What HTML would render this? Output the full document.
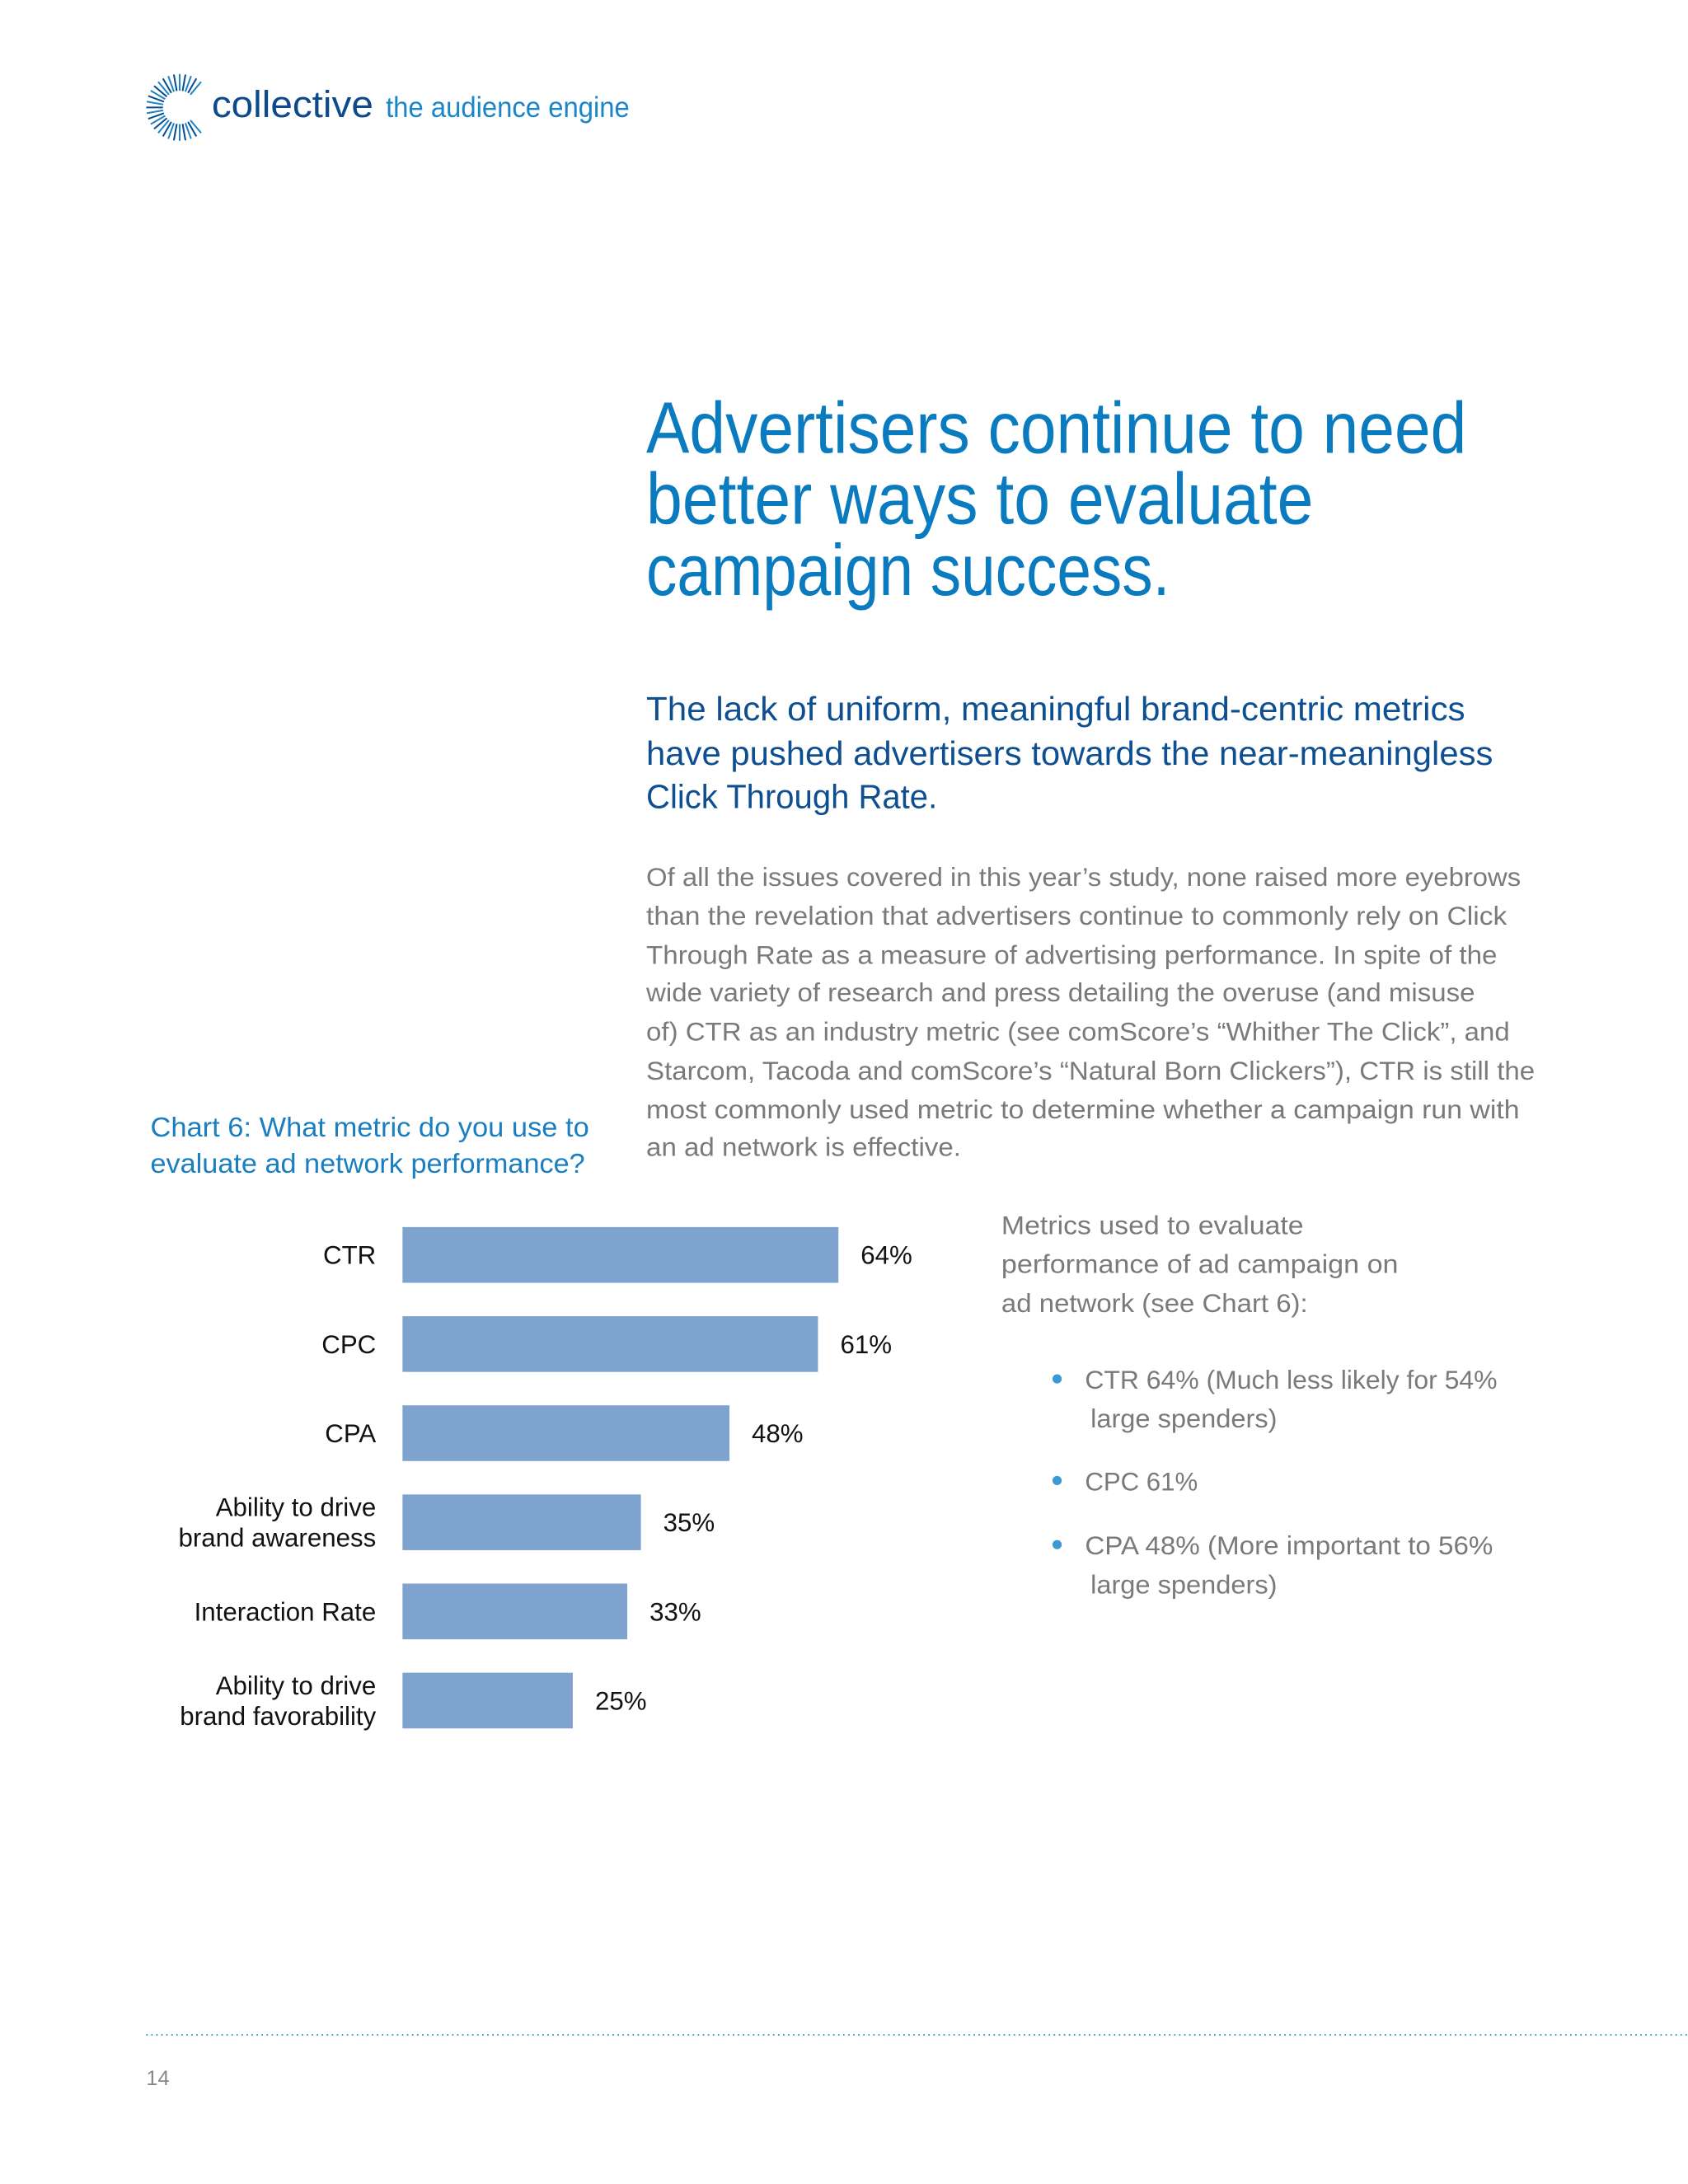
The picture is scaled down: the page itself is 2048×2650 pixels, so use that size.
<!DOCTYPE html>
<html><head><meta charset="utf-8"><style>
html,body{margin:0;padding:0;background:#fff}
svg{display:block}
text{font-family:"Liberation Sans",sans-serif}
</style></head><body>
<svg id="page" width="2048" height="2650" viewBox="0 0 1212 1568" xmlns="http://www.w3.org/2000/svg">
<rect width="1212" height="1568" fill="#ffffff"/>
<g id="logo"></g>
<text x="152" y="84" font-size="27" fill="#0d4a8c" textLength="116" lengthAdjust="spacingAndGlyphs">collective</text>
<text x="277" y="84" font-size="21" fill="#1a86c8" textLength="175" lengthAdjust="spacingAndGlyphs">the audience engine</text>

<g fill="#0a7bbf" font-size="52">
<text x="464" y="325" textLength="589" lengthAdjust="spacingAndGlyphs">Advertisers continue to need</text>
<text x="464" y="376" textLength="479" lengthAdjust="spacingAndGlyphs">better ways to evaluate</text>
<text x="464" y="427" textLength="376" lengthAdjust="spacingAndGlyphs">campaign success.</text>
</g>
<g fill="#0d4f91" font-size="24">
<text x="464" y="517" textLength="588" lengthAdjust="spacingAndGlyphs">The lack of uniform, meaningful brand-centric metrics</text>
<text x="464" y="549" textLength="608" lengthAdjust="spacingAndGlyphs">have pushed advertisers towards the near-meaningless</text>
<text x="464" y="580" textLength="209" lengthAdjust="spacingAndGlyphs">Click Through Rate.</text>
</g>
<g fill="#7a7a7a" font-size="18.5">
<text x="464" y="636" textLength="628" lengthAdjust="spacingAndGlyphs">Of all the issues covered in this year’s study, none raised more eyebrows</text>
<text x="464" y="664" textLength="618" lengthAdjust="spacingAndGlyphs">than the revelation that advertisers continue to commonly rely on Click</text>
<text x="464" y="692" textLength="611" lengthAdjust="spacingAndGlyphs">Through Rate as a measure of advertising performance. In spite of the</text>
<text x="464" y="719" textLength="595" lengthAdjust="spacingAndGlyphs">wide variety of research and press detailing the overuse (and misuse</text>
<text x="464" y="747" textLength="620" lengthAdjust="spacingAndGlyphs">of) CTR as an industry metric (see comScore’s “Whither The Click”, and</text>
<text x="464" y="775" textLength="638" lengthAdjust="spacingAndGlyphs">Starcom, Tacoda and comScore’s “Natural Born Clickers”), CTR is still the</text>
<text x="464" y="803" textLength="627" lengthAdjust="spacingAndGlyphs">most commonly used metric to determine whether a campaign run with</text>
<text x="464" y="830" textLength="226" lengthAdjust="spacingAndGlyphs">an ad network is effective.</text>
</g>
<g fill="#1a7fc0" font-size="19.5">
<text x="108" y="816" textLength="315" lengthAdjust="spacingAndGlyphs">Chart 6: What metric do you use to</text>
<text x="108" y="842" textLength="312" lengthAdjust="spacingAndGlyphs">evaluate ad network performance?</text>
</g>
<g id="chart"></g>

<g fill="#7a7a7a" font-size="18.5">
<text x="719" y="886" textLength="217" lengthAdjust="spacingAndGlyphs">Metrics used to evaluate</text>
<text x="719" y="914" textLength="285" lengthAdjust="spacingAndGlyphs">performance of ad campaign on</text>
<text x="719" y="942" textLength="220" lengthAdjust="spacingAndGlyphs">ad network (see Chart 6):</text>
<circle cx="759" cy="990" r="3.3" fill="#3b9ad6"/>
<text x="779" y="997" textLength="296" lengthAdjust="spacingAndGlyphs">CTR 64% (Much less likely for 54%</text>
<text x="783" y="1025" textLength="134" lengthAdjust="spacingAndGlyphs">large spenders)</text>
<circle cx="759" cy="1063" r="3.3" fill="#3b9ad6"/>
<text x="779" y="1070" textLength="81" lengthAdjust="spacingAndGlyphs">CPC 61%</text>
<circle cx="759" cy="1109" r="3.3" fill="#3b9ad6"/>
<text x="779" y="1116" textLength="293" lengthAdjust="spacingAndGlyphs">CPA 48% (More important to 56%</text>
<text x="783" y="1144" textLength="134" lengthAdjust="spacingAndGlyphs">large spenders)</text>
</g>
<line x1="105" y1="1461" x2="1212" y2="1461" stroke="#3a9bc8" stroke-width="1.2" stroke-dasharray="1 2.6"/>
<text x="105" y="1497" font-size="15" fill="#888">14</text>
</svg>
<script>
const categories = [["CTR"],["CPC"],["CPA"],["Ability to drive","brand awareness"],["Interaction Rate"],["Ability to drive","brand favorability"]];
const values = [64, 61, 48, 35, 33, 25];
const valueLabels = ["64%","61%","48%","35%","33%","25%"];

const NS = "http://www.w3.org/2000/svg";
const chart = document.getElementById('chart');
const x0 = 289, pxPerPct = 313 / 64;
const xScale = v => x0 + v * pxPerPct;
const rowTop = 881, rowStep = 64, barH = 40;
const yScale = i => rowTop + i * rowStep;
values.forEach((v, i) => {
  const y = yScale(i);
  const r = document.createElementNS(NS, 'rect');
  r.setAttribute('x', x0); r.setAttribute('y', y);
  r.setAttribute('width', xScale(v) - x0); r.setAttribute('height', barH);
  r.setAttribute('fill', '#7fa3cf');
  
  
  chart.appendChild(r);
  const t = document.createElementNS(NS, 'text');
  t.setAttribute('x', xScale(v) + 16); t.setAttribute('y', y + barH / 2 + 6.5);
  t.setAttribute('font-size', '18.5'); t.setAttribute('fill', '#111');
  t.textContent = valueLabels[i];
  
  
  chart.appendChild(t);
  const lines = categories[i];
  lines.forEach((ln, j) => {
    const c = document.createElementNS(NS, 'text');
    const cy = y + barH / 2 + 6.5 + (lines.length === 2 ? (j === 0 ? -11 : 11) : 0);
    c.setAttribute('x', 270); c.setAttribute('y', cy);
    c.setAttribute('text-anchor', 'end'); c.setAttribute('font-size', '18.5'); c.setAttribute('fill', '#111');
    c.textContent = ln;
    
    
    chart.appendChild(c);
  });
});
const logo = document.getElementById('logo');
for (let k = 0; k < 36; k++) {
  const a = (k / 36) * Math.PI * 2;
  if (Math.cos(a) > 0.75) continue;
  const cx = 129, cy = 77;
  const l = document.createElementNS(NS, 'line');
  l.setAttribute('x1', cx + Math.cos(a) * 12); l.setAttribute('y1', cy + Math.sin(a) * 12);
  l.setAttribute('x2', cx + Math.cos(a) * 24); l.setAttribute('y2', cy + Math.sin(a) * 24);
  l.setAttribute('stroke', k % 2 ? '#1a86c8' : '#0d4a8c'); l.setAttribute('stroke-width', '1.2');
  
  
  logo.appendChild(l);
}
</script>
</body></html>
